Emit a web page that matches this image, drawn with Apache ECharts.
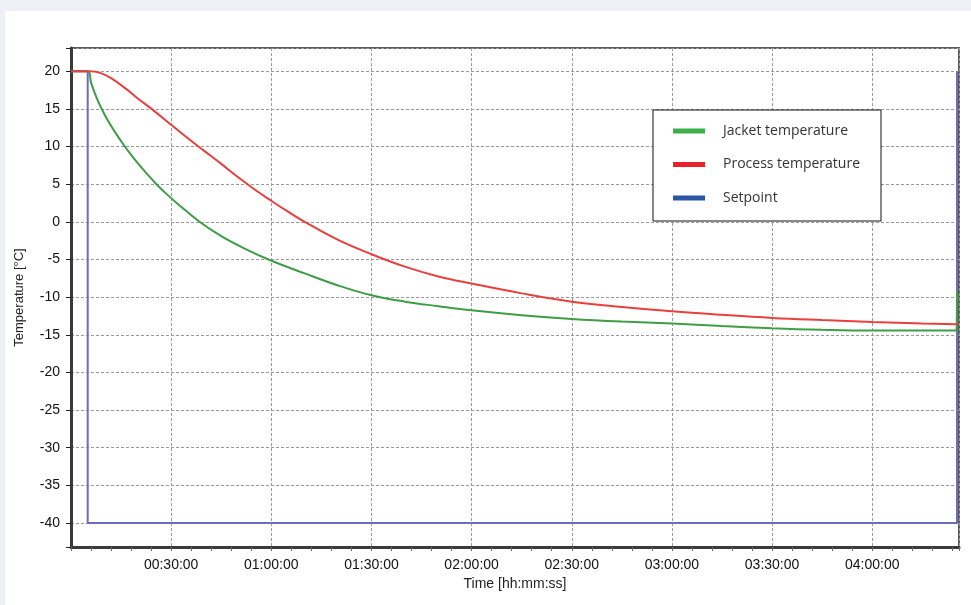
<!DOCTYPE html>
<html><head><meta charset="utf-8">
<script src="https://cdn.jsdelivr.net/npm/echarts@6/dist/echarts.min.js"></script>
<style>
html,body{margin:0;padding:0;}
#wrap{position:relative;width:971px;height:605px;background:#edf1f5;overflow:hidden}
#panel{position:absolute;left:5px;top:11px;right:0;bottom:0;background:#fff}
#c{position:absolute;left:0;top:0;width:971px;height:605px}
</style>
</head><body>
<div id="wrap"><div id="panel"></div><div id="c"></div></div>
<script>
// time in minutes, temperature in °C
const seriesNames = ['Jacket temperature', 'Process temperature', 'Setpoint'];
const jacket = [
  [0,20],[5,20],[6,18.5],[7,17.25],[8,16.15],[9.2,15],[11,13.5],[13,12.05],[15.9,10.15],[18,8.9],
  [20,7.8],[22.5,6.5],[25.6,5],[28.5,3.75],[32.6,2.15],[38.4,0.05],[45,-1.9],[52,-3.55],
  [59.7,-5.1],[70,-6.85],[80,-8.45],[90,-9.75],[100,-10.6],[110,-11.2],[120,-11.75],
  [135,-12.4],[150,-12.9],[165,-13.25],[180,-13.5],[195,-13.85],[210,-14.15],[225,-14.35],
  [240,-14.45],[255,-14.45],[265.2,-14.45],[265.4,-9.2]
];
const processT = [
  [0,20],[5.5,20],[8.7,19.8],[12,19.1],[16.7,17.6],[20,16.4],[24.6,14.85],[30,12.9],
  [35,11.1],[40,9.4],[45,7.7],[50,5.95],[55,4.3],[60,2.8],[65,1.35],[70,0],[80,-2.4],[90,-4.3],
  [100,-5.95],[110,-7.25],[120,-8.2],[135,-9.5],[150,-10.6],[165,-11.3],
  [180,-11.88],[195,-12.35],[210,-12.76],[225,-13.05],[240,-13.3],[255,-13.5],[265.4,-13.6]
];
const setpoint = [[0,20],[5,20],[5,-40],[265.4,-40],[265.4,20]];
const xTickLabels = ['00:30:00','01:00:00','01:30:00','02:00:00','02:30:00','03:00:00','03:30:00','04:00:00'];
const yTickLabels = [20,15,10,5,0,-5,-10,-15,-20,-25,-30,-35,-40];

const gridColor = '#9a9a9a';
const chart = echarts.init(document.getElementById('c'), null, {renderer:'canvas'});
chart.setOption({
  backgroundColor: 'transparent',
  animation: false,
  grid: {left:71, right:12, top:48, bottom:58, show:true, borderColor:'#5a5a5a', borderWidth:2},
  legend: {
    orient:'vertical', left:653, top:110,
    backgroundColor:'#fff', borderColor:'#111', borderWidth:1, borderRadius:0,
    padding:[12,18,14,20], itemWidth:32, itemHeight:5, itemGap:15.5, icon:'rect',
    textStyle:{fontFamily:'Open Sans', fontSize:14, color:'#333', lineHeight:18, width:140, padding:[0,0,0,13]},
    data:[
      {name:seriesNames[0], itemStyle:{color:'#3cae4a'}},
      {name:seriesNames[1], itemStyle:{color:'#e8222a'}},
      {name:seriesNames[2], itemStyle:{color:'#2a55a5'}}
    ]
  },
  xAxis: [{
    type:'value', min:0, max:266, splitNumber:9,
    name:'Time [hh:mm:ss]', nameLocation:'middle', nameGap:26,
    nameTextStyle:{fontFamily:'Liberation Sans', fontSize:14, color:'#222'},
    axisLine:{onZero:false, lineStyle:{color:'#3a3a3a', width:3}},
    axisTick:{show:true, length:5, lineStyle:{color:gridColor, type:[3,2]}},
    axisLabel:{margin:11, fontFamily:'Liberation Sans', fontSize:14, color:'#111',
      formatter:function(v){ const i = Math.round(v/30)-1; return (Math.abs(v-30*(i+1))<1e-6 && i>=0 && i<xTickLabels.length) ? xTickLabels[i] : ''; }},
    splitLine:{show:true, lineStyle:{color:gridColor, width:1, type:[3,2]}}
  },{
    type:'value', min:0, max:266, interval:6, position:'bottom',
    axisLine:{show:false, onZero:false}, axisLabel:{show:false}, splitLine:{show:false},
    axisTick:{show:true, length:4, lineStyle:{color:'#666'}}
  }],
  yAxis: {
    type:'value', min:-43.2, max:23.1, splitNumber:13,
    name:'Temperature [°C]', nameLocation:'middle', nameGap:45, nameRotate:90,
    nameTextStyle:{fontFamily:'Liberation Sans', fontSize:13, color:'#222'},
    axisLine:{show:true, onZero:false, lineStyle:{color:'#3a3a3a', width:3}},
    axisTick:{show:true, length:5, lineStyle:{color:'#222'}},
    axisLabel:{margin:11, fontFamily:'Liberation Sans', fontSize:14, color:'#111',
      formatter:function(v){ const r = Math.round(v); return (Math.abs(v-r)<1e-6 && yTickLabels.indexOf(r)>=0) ? String(r) : ''; }},
    splitLine:{show:true, lineStyle:{color:gridColor, width:1, type:[3,2]}}
  },
  series: [
    {name:seriesNames[2], type:'line', data:setpoint, showSymbol:false, lineStyle:{color:'#6b6cc0', width:2}, itemStyle:{color:'#6b6cc0'}},
    {name:seriesNames[0], type:'line', data:jacket, showSymbol:false, smooth:0.4, lineStyle:{color:'#3d9e45', width:2}, itemStyle:{color:'#3d9e45'}},
    {name:seriesNames[1], type:'line', data:processT, showSymbol:false, smooth:0.4, lineStyle:{color:'#e8403f', width:2}, itemStyle:{color:'#e8403f'}}
  ]
});
</script>
</body></html>
